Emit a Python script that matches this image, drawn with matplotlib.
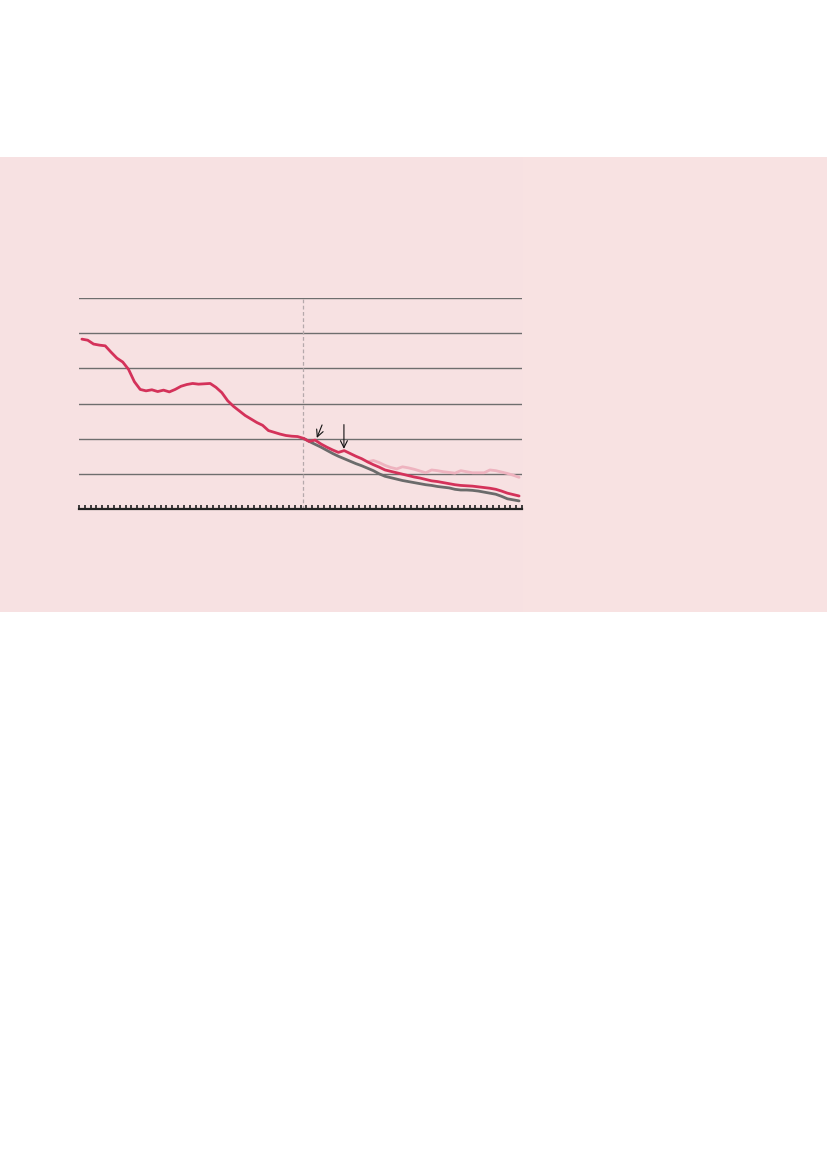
import numpy as np
import matplotlib
matplotlib.use("Agg")
import matplotlib.pyplot as plt
from matplotlib.patches import Rectangle

# quarterly positions, 76 periods
n_periods = 76
x_red = np.arange(76) + 0.5
red = [48.3, 48.0, 46.9, 46.6, 46.4, 44.6, 42.9, 41.8, 39.7, 36.2,
       34.0, 33.6, 33.9, 33.4, 33.8, 33.3, 34.0, 34.9, 35.4, 35.7,
       35.5, 35.6, 35.7, 34.6, 33.1, 30.8, 29.2, 27.9, 26.6, 25.6,
       24.6, 23.8, 22.3, 21.8, 21.3, 20.9, 20.7, 20.6, 20.1, 19.2,
       19.6, 18.5, 17.6, 16.8, 16.1, 16.6, 15.8, 15.0, 14.3, 13.4,
       12.6, 11.9, 11.1, 10.7, 10.3, 9.9, 9.5, 9.1, 8.8, 8.4,
       8.0, 7.8, 7.5, 7.2, 6.9, 6.7, 6.6, 6.5, 6.3, 6.1,
       5.9, 5.6, 5.1, 4.5, 4.1, 3.7]

x_grey = np.arange(38, 76) + 0.5
grey = [20.1, 19.2, 18.4, 17.6, 16.7, 15.8, 15.0, 14.3, 13.6, 12.9,
        12.3, 11.6, 10.9, 10.0, 9.3, 8.9, 8.5, 8.1, 7.8, 7.5,
        7.2, 6.9, 6.7, 6.4, 6.2, 6.0, 5.6, 5.4, 5.4, 5.3,
        5.1, 4.8, 4.5, 4.2, 3.6, 2.9, 2.6, 2.3]

x_pink = np.arange(49, 76) + 0.5
pink = [13.4, 13.8, 13.2, 12.4, 11.8, 11.4, 12.0, 11.7, 11.3, 10.8,
        10.3, 11.1, 10.9, 10.6, 10.4, 10.2, 10.9, 10.6, 10.3, 10.3,
        10.3, 11.1, 10.9, 10.5, 10.1, 9.6, 9.0]

gridvals = [10, 20, 30, 40, 50, 60]
split_x = 38.4

#------------------------------- figure -------------------------------#
fig = plt.figure(figsize=(8.27, 11.69), dpi=100)
fig.patch.set_facecolor("white")

# pink panel behind the chart
fig.patches.append(Rectangle((0, 1 - 612 / 1169), 523 / 827, 455 / 1169,
                             transform=fig.transFigure, facecolor="#f7e1e2",
                             edgecolor="none", zorder=-10))
fig.patches.append(Rectangle((523 / 827, 1 - 612 / 1169), 304 / 827, 455 / 1169,
                             transform=fig.transFigure, facecolor="#f8e2e2",
                             edgecolor="none", zorder=-10))

ax = fig.add_axes([79 / 827, 1 - 509 / 1169, 443 / 827, 211 / 1169])
ax.set_facecolor("none")
ax.set_xlim(0, n_periods)
ax.set_ylim(0, 60)

for g in gridvals:
    ax.axhline(g, color="#6e6e6e", lw=1.0, zorder=1)

ax.plot([split_x, split_x], [0, 60], color="#b5a9ab", lw=0.9,
        ls=(0, (3, 2)), zorder=1)

ax.plot(x_pink, pink, color="#eeb3bf", lw=2.0, zorder=2, solid_capstyle="round")
ax.plot(x_grey, grey, color="#6b6b6b", lw=2.0, zorder=3, solid_capstyle="round")
ax.plot(x_red, red, color="#d4325a", lw=2.0, zorder=4, solid_capstyle="round")

# arrows
arrow_kw = dict(arrowstyle="->,head_length=0.5,head_width=0.25", color="#111111",
                lw=0.8, shrinkA=0, shrinkB=0)
ax.annotate("", xy=(40.8, 20.2), xytext=(41.7, 23.9), arrowprops=arrow_kw)
ax.annotate("", xy=(45.45, 17.1), xytext=(45.45, 24.0), arrowprops=arrow_kw)

# baseline with small ticks
for s in ["top", "right", "left"]:
    ax.spines[s].set_visible(False)
ax.spines["bottom"].set_color("#222222")
ax.spines["bottom"].set_linewidth(1.6)
ax.set_xticks(np.arange(0, n_periods + 1))
ax.tick_params(axis="x", direction="in", length=3, width=1.2, color="#222222",
               labelbottom=False)
ax.set_yticks([])

fig.savefig("out.png", dpi=100)
